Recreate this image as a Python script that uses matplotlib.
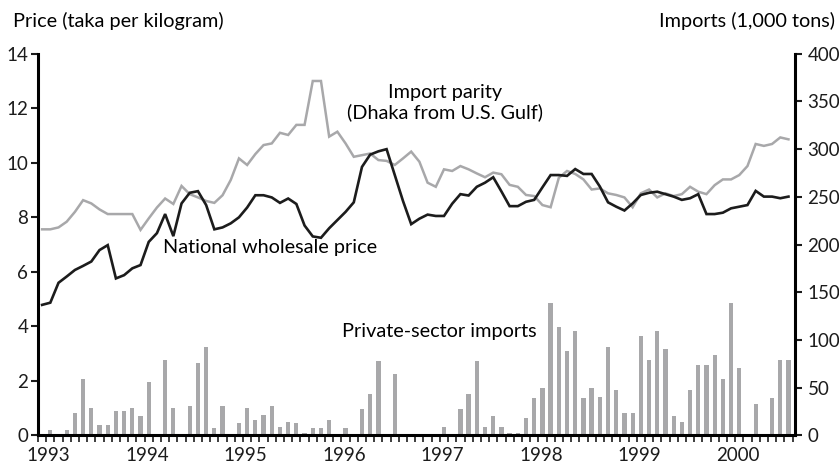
import numpy as np
import matplotlib.pyplot as plt

plt.rcParams['font.family'] = ['Lato', 'DejaVu Sans']
plt.rcParams['font.size'] = 13.5

# monthly series, Jan 1993 - Aug 2000
wholesale = [4.79, 4.87, 5.6, 5.83, 6.07, 6.22, 6.38, 6.8, 6.98, 5.76,
             5.88, 6.13, 6.25, 7.1, 7.42, 8.12, 7.31, 8.51, 8.9, 8.96,
             8.45, 7.56, 7.63, 7.78, 8.0, 8.36, 8.81, 8.81, 8.73, 8.53,
             8.69, 8.49, 7.7, 7.3, 7.25, 7.6, 7.9, 8.2, 8.55, 9.85,
             10.3, 10.42, 10.5, 9.55, 8.6, 7.75, 7.95, 8.1, 8.05, 8.05,
             8.5, 8.85, 8.8, 9.12, 9.27, 9.47, 8.95, 8.41, 8.41, 8.57,
             8.64, 9.1, 9.55, 9.55, 9.52, 9.77, 9.59, 9.59, 9.13, 8.55,
             8.39, 8.25, 8.51, 8.82, 8.9, 8.94, 8.85, 8.76, 8.64, 8.7,
             8.85, 8.12, 8.12, 8.17, 8.33, 8.39, 8.45, 8.97, 8.76, 8.76,
             8.7, 8.76]

parity = [7.56, 7.56, 7.63, 7.84, 8.2, 8.63, 8.51, 8.29, 8.12, 8.12,
          8.12, 8.12, 7.54, 7.96, 8.36, 8.69, 8.49, 9.15, 8.85, 8.73,
          8.6, 8.53, 8.81, 9.37, 10.16, 9.92, 10.32, 10.65, 10.71, 11.1,
          11.02, 11.39, 11.39, 13.0, 13.0, 10.96, 11.14, 10.71, 10.22, 10.28,
          10.34, 10.1, 10.07, 9.92, 10.16, 10.41, 10.04, 9.27, 9.12, 9.76,
          9.7, 9.88, 9.76, 9.61, 9.47, 9.64, 9.58, 9.19, 9.12, 8.82,
          8.78, 8.45, 8.37, 9.45, 9.7, 9.59, 9.39, 9.02, 9.06, 8.88,
          8.82, 8.73, 8.37, 8.88, 9.02, 8.73, 8.88, 8.78, 8.85, 9.12,
          8.94, 8.85, 9.18, 9.39, 9.39, 9.55, 9.88, 10.69, 10.62, 10.69,
          10.93, 10.86]

imports = [0, 6, 0, 6, 24, 59, 29, 11, 11, 26,
           26, 29, 20, 56, 0, 79, 29, 0, 31, 76,
           93, 8, 31, 0, 13, 29, 16, 21, 31, 9,
           14, 13, 3, 8, 8, 16, 0, 8, 0, 28,
           43, 78, 0, 64, 0, 0, 0, 0, 0, 9,
           0, 28, 43, 78, 9, 20, 9, 3, 3, 18,
           39, 50, 139, 114, 89, 109, 39, 50, 40, 93,
           48, 24, 24, 104, 79, 109, 91, 20, 14, 48,
           74, 74, 84, 59, 139, 71, 0, 33, 0, 39,
           79, 79]

years = ['1993', '1994', '1995', '1996', '1997', '1998', '1999', '2000']

BLACK = '#1c1c1c'
GREY = '#a8a8aa'
LABEL_SIZE = 14.3

x = np.arange(len(imports)) + 0.5

fig = plt.figure(figsize=(8.39, 4.63), dpi=100)
ax = fig.add_axes([0.0453, 0.0594, 0.9023, 0.8246])   # imports (right axis)
axp = ax.twinx()                                       # prices (left axis)

ax.bar(x, imports, width=0.52, color=GREY, linewidth=0)
ax.set_ylim(0, 400)
ax.set_xlim(0, 92.3)
ax.set_yticks(range(0, 401, 50))
ax.yaxis.tick_right()
ax.tick_params(axis='y', direction='out', length=5, width=1.5, pad=4, colors=BLACK)

axp.plot(x, parity, color=GREY, lw=1.8, solid_joinstyle='miter')
axp.plot(x, wholesale, color=BLACK, lw=1.9, solid_joinstyle='miter')
axp.set_ylim(0, 14)
axp.set_yticks(range(0, 15, 2))
axp.yaxis.tick_left()
axp.tick_params(axis='y', direction='out', length=5, width=1.5, pad=2, colors=BLACK)

# x axis: monthly tick marks, year labels
ax.set_xticks(np.arange(0, 93), minor=True)
ax.set_xticks([12 * k + 1.3 for k in range(len(years))])
ax.set_xticklabels(years)
ax.tick_params(axis='x', which='minor', direction='out', length=5, width=1.2, color=BLACK)
ax.tick_params(axis='x', which='major', length=0, pad=8, colors=BLACK)

for s in ['top', 'left']:
    ax.spines[s].set_visible(False)
for s in ['top', 'right', 'bottom']:
    axp.spines[s].set_visible(False)
ax.spines['right'].set_linewidth(2.2)
ax.spines['bottom'].set_linewidth(2.2)
axp.spines['left'].set_linewidth(2.2)

fig.text(13 / 839, 1 - 21 / 463, 'Price (taka per kilogram)', ha='left', va='center',
         fontsize=LABEL_SIZE)
fig.text(835 / 839, 1 - 21 / 463, 'Imports (1,000 tons)', ha='right', va='center',
         fontsize=LABEL_SIZE)

axp.text(49.6, 12.2, 'Import parity\n(Dhaka from U.S. Gulf)', ha='center', va='center',
         linespacing=1.15, fontsize=LABEL_SIZE)
axp.text(15.2, 6.88, 'National wholesale price', ha='left', va='center', fontsize=LABEL_SIZE)
axp.text(37.1, 3.8, 'Private-sector imports', ha='left', va='center', fontsize=LABEL_SIZE)

fig.savefig('out.png', dpi=100)
